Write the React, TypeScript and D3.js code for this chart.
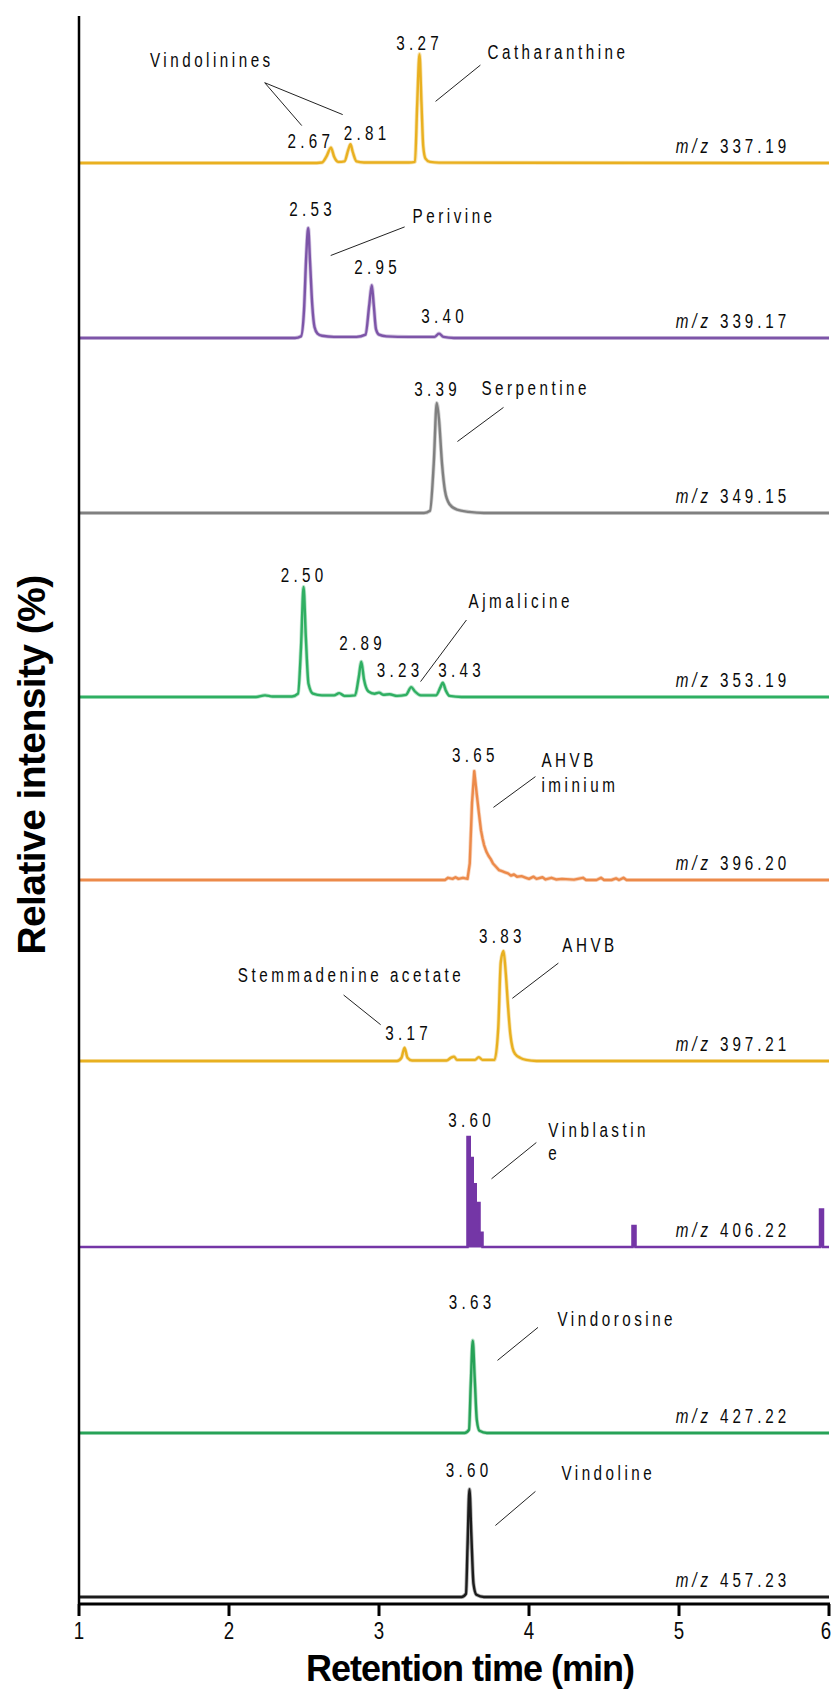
import React from "react";
import * as d3 from "d3";

// ---------- DATA ----------
const mzValues = ["337.19", "339.17", "349.15", "353.19", "396.20", "397.21", "406.22", "427.22", "457.23"];
const xTicks = [1, 2, 3, 4, 5, 6];

// retention time (min), relative intensity (%)
const trace337: [number, number][] = [[1,0],[2.55,0],[2.62,0.5],[2.65,6],[2.68,14],[2.70,6],[2.73,1],[2.77,1.5],[2.795,12],[2.81,17],[2.825,10],[2.85,1.5],[2.9,0.5],[3.2,0.5],[3.24,1],[3.255,55],[3.27,99],[3.283,55],[3.295,15],[3.31,4],[3.34,1],[3.4,0.3],[6,0]];
const trace339: [number, number][] = [[1,0],[2.44,0],[2.48,1.5],[2.50,25],[2.515,75],[2.528,100],[2.54,70],[2.555,30],[2.57,10],[2.59,4],[2.62,2],[2.7,1],[2.85,1],[2.91,3],[2.935,30],[2.952,48],[2.965,30],[2.98,8],[3.0,3],[3.05,1.5],[3.2,1],[3.37,1],[3.40,4],[3.43,1],[3.5,0],[6,0]];
const trace349: [number, number][] = [[1,0],[3.30,0],[3.34,2],[3.365,45],[3.385,100],[3.40,85],[3.42,45],[3.44,20],[3.47,8],[3.52,3],[3.6,1],[3.7,0],[6,0]];
const trace353: [number, number][] = [[1,0],[2.18,0],[2.24,1.5],[2.29,0.5],[2.42,0.5],[2.46,3],[2.48,45],[2.497,100],[2.512,55],[2.53,12],[2.56,3],[2.62,1.5],[2.70,1.5],[2.735,3.5],[2.77,1],[2.84,1.5],[2.865,18],[2.882,32],[2.90,16],[2.93,5],[2.97,3],[3.0,4],[3.03,2],[3.07,2.5],[3.12,1],[3.18,2],[3.215,9],[3.24,5],[3.28,1.5],[3.38,1.5],[3.41,9],[3.425,13],[3.445,6],[3.47,1],[3.55,0],[6,0]];
const trace396: [number, number][] = [[1,0],[3.44,0],[3.46,2],[3.49,1],[3.51,2.5],[3.53,1],[3.56,2],[3.59,1],[3.605,15],[3.62,70],[3.635,99],[3.65,80],[3.665,62],[3.68,45],[3.69,38],[3.70,32],[3.715,26],[3.73,22],[3.745,19],[3.76,15],[3.78,12],[3.80,9],[3.82,8],[3.84,7],[3.86,6],[3.88,4],[3.90,5],[3.92,3],[3.95,3.5],[3.98,2],[4.0,1],[4.03,3],[4.05,1],[4.09,2.5],[4.11,0.5],[4.15,2],[4.18,0.5],[4.22,1],[4.3,0.3],[4.36,2],[4.38,0],[4.45,0],[4.48,2],[4.50,0],[4.55,0],[4.58,1.5],[4.6,0],[4.63,2],[4.65,0],[6,0]];
const trace397: [number, number][] = [[1,0],[3.12,0],[3.15,3],[3.17,12],[3.19,3],[3.22,0.5],[3.45,0.5],[3.48,3],[3.50,4],[3.52,1],[3.64,1],[3.665,3.5],[3.69,1],[3.77,1],[3.795,30],[3.812,90],[3.83,100],[3.845,80],[3.86,50],[3.875,25],[3.89,12],[3.91,6],[3.94,3],[3.98,1],[4.05,0],[6,0]];
const trace406: [number, number][] = [[1,0],[3.585,0],[3.59,100],[3.605,81],[3.625,57],[3.645,40],[3.67,13],[3.69,0],[4.685,0],[4.69,19],[4.71,0],[5.935,0],[5.94,34],[5.96,0],[6,0]];
const trace427: [number, number][] = [[1,0],[3.57,0],[3.60,3],[3.612,45],[3.625,84],[3.638,50],[3.652,12],[3.67,2],[3.72,0],[6,0]];
const trace457: [number, number][] = [[1,0],[3.55,0],[3.58,3],[3.59,45],[3.603,98],[3.616,55],[3.63,12],[3.65,2],[3.7,0],[6,0]];

const traces = [trace337, trace339, trace349, trace353, trace396, trace397, trace406, trace427, trace457];

// peak retention-time labels: [panel, text, t, v]
const peakLabels: [number, string, number, number][] = [
  [0, "3.27", 3.27, 103], [0, "2.67", 2.545, 14], [0, "2.81", 2.92, 21],
  [1, "2.53", 2.558, 111], [1, "2.95", 2.99, 58], [1, "3.40", 3.437, 14],
  [2, "3.39", 3.39, 106],
  [3, "2.50", 2.50, 105], [3, "2.89", 2.89, 43], [3, "3.23", 3.14, 18], [3, "3.43", 3.55, 18],
  [4, "3.65", 3.643, 107],
  [5, "3.83", 3.823, 107], [5, "3.17", 3.197, 19],
  [6, "3.60", 3.617, 109],
  [7, "3.63", 3.62, 113],
  [8, "3.60", 3.60, 109],
];

// compound names: [panel, text, t, v]
const compoundNames: [number, string, number, number][] = [
  [0, "Catharanthine", 3.723, 95], [0, "Vindolinines", 1.473, 87],
  [1, "Perivine", 3.224, 105],
  [2, "Serpentine", 3.683, 107],
  [3, "Ajmalicine", 3.597, 81],
  [4, "AHVB", 4.083, 103], [4, "iminium", 4.083, 80],
  [5, "AHVB", 4.222, 99], [5, "Stemmadenine acetate", 2.059, 72],
  [6, "Vinblastin", 4.129, 100], [6, "e", 4.129, 79],
  [7, "Vindorosine", 4.19, 97],
  [8, "Vindoline", 4.216, 106],
];

// leader lines: [panel, t1, v1, t2, v2]
const leaders: [number, number, number, number, number][] = [
  [0, 3.377, 56, 3.676, 89], [0, 2.238, 73, 2.485, 34], [0, 2.238, 73, 2.758, 44],
  [1, 2.678, 75, 3.171, 101],
  [2, 3.523, 65, 3.83, 96],
  [3, 3.277, 14, 3.583, 70],
  [4, 3.763, 66, 4.043, 94],
  [5, 3.889, 57, 4.196, 89], [5, 2.764, 60, 3.011, 33],
  [6, 3.75, 62, 4.049, 95],
  [7, 3.79, 66, 4.06, 96],
  [8, 3.776, 65, 4.043, 96],
];

// ---------- STYLE / LAYOUT ----------
const W = 833, H = 1689;
const colors = ["#E9B020", "#7D55A8", "#808080", "#2FAF62", "#EC8A4A", "#E8B020", "#7436A6", "#27A257", "#1c1c1c"];
const baselines = [163, 338, 513, 697, 880, 1061, 1247, 1433, 1597];
const PANEL_H = 110;
const FONT = "'Liberation Sans', Arial, sans-serif";
const SQUEEZE = 0.78;

function NText(props: { x: number; y: number; anchor?: string; size?: number; ls?: number; children: any; }) {
  const { x, y, anchor = "start", size = 19.5, ls = 4.5, children } = props;
  return (
    <text transform={`translate(${x},${y}) scale(${SQUEEZE},1)`} textAnchor={anchor} fontFamily={FONT}
      fontSize={size} letterSpacing={ls} fill="#0a0a0a">{children}</text>
  );
}

export default function App() {
  const x = d3.scaleLinear().domain([1, 6]).range([79, 829]);
  const yScales = baselines.map((b) => d3.scaleLinear().domain([0, 100]).range([b, b - PANEL_H]));
  const axisY = 1604;

  return (
    <svg width={W} height={H} viewBox={`0 0 ${W} ${H}`}
      style={{ position: "absolute", left: 0, top: 0, background: "#fff", display: "block" }}>
      <rect x={0} y={0} width={W} height={H} fill="#fff" />
      {traces.map((tr, i) => {
        const y = yScales[i];
        if (i === 6) {
          const area = d3.area<[number, number]>().curve(d3.curveStepAfter)
            .x((d) => x(d[0])).y0(y(0)).y1((d) => y(d[1]));
          const line = d3.line<[number, number]>().curve(d3.curveStepAfter)
            .x((d) => x(d[0])).y((d) => y(d[1]));
          return (
            <g key={i}>
              <path d={area(tr) || ""} fill={colors[i]} stroke={colors[i]} strokeWidth={1.2}
                strokeLinejoin="miter" />
              <path d={line(tr) || ""} fill="none" stroke={colors[i]} strokeWidth={2.5} />
            </g>
          );
        }
        const curve = i === 4 ? d3.curveLinear : d3.curveMonotoneX;
        const line = d3.line<[number, number]>().curve(curve).x((d) => x(d[0])).y((d) => y(d[1]));
        return (
          <g key={i}>
            <path d={line(tr) || ""} fill="none" stroke={colors[i]} strokeOpacity={0.35}
              strokeWidth={4} strokeLinejoin="round" />
            <path d={line(tr) || ""} fill="none" stroke={colors[i]} strokeWidth={2.4}
              strokeLinejoin="round" />
          </g>
        );
      })}

      {leaders.map(([p, t1, v1, t2, v2], k) => (
        <line key={"l" + k} x1={x(t1)} y1={yScales[p](v1)} x2={x(t2)} y2={yScales[p](v2)}
          stroke="#222" strokeWidth={1} />
      ))}

      {peakLabels.map(([p, txt, t, v], k) => (
        <NText key={"p" + k} x={x(t)} y={yScales[p](v)} anchor="middle" ls={5.5}>{txt}</NText>
      ))}

      {compoundNames.map(([p, txt, t, v], k) => (
        <NText key={"c" + k} x={x(t)} y={yScales[p](v)}>{txt}</NText>
      ))}

      {mzValues.map((m, i) => (
        <NText key={"m" + i} x={x(5.74)} y={yScales[i](9)} anchor="end" ls={5}>
          <tspan fontStyle="italic">m/z</tspan>
          <tspan> {m}</tspan>
        </NText>
      ))}

      {/* axes */}
      <line x1={79} y1={16} x2={79} y2={axisY} stroke="#000" strokeWidth={2.5} />
      <line x1={x(1)} y1={axisY} x2={x(6) + 1} y2={axisY} stroke="#000" strokeWidth={3} />
      {xTicks.map((t) => (
        <g key={"t" + t}>
          <line x1={x(t)} y1={axisY} x2={x(t)} y2={axisY + 12} stroke="#000" strokeWidth={3} />
          <NText x={x(t) - (t === 6 ? 3 : 0)} y={axisY + 35} anchor="middle" size={24} ls={0}>{t}</NText>
        </g>
      ))}
      <text x={470} y={1681} textAnchor="middle" fontFamily={FONT} fontWeight="bold" fontSize={36}
        letterSpacing={-1} fill="#000">Retention time (min)</text>
      <text transform={`translate(45, 765) rotate(-90)`} textAnchor="middle" fontFamily={FONT}
        fontWeight="bold" fontSize={39} letterSpacing={-0.6} fill="#000">Relative intensity (%)</text>
    </svg>
  );
}
